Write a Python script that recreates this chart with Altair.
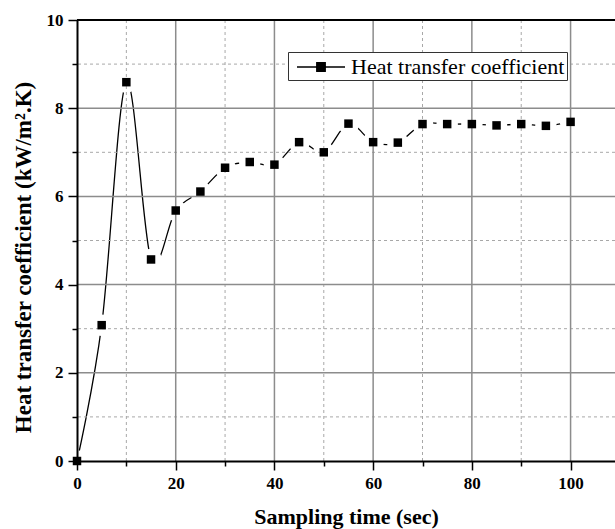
import altair as alt
import pandas as pd

# data
times = [0, 5, 10, 15, 20, 25, 30, 35, 40, 45, 50, 55, 60, 65, 70, 75, 80, 85, 90, 95, 100]
htc = [0.0, 3.08, 8.59, 4.57, 5.68, 6.11, 6.65, 6.78, 6.72, 7.23, 7.0, 7.65,
       7.23, 7.22, 7.64, 7.64, 7.64, 7.61, 7.64, 7.6, 7.69]
series_name = "Heat transfer coefficient"

major_x = [20, 40, 60, 80, 100]
minor_x = [10, 30, 50, 70, 90]
major_y = [2, 4, 6, 8]
minor_y = [1, 3, 5, 7, 9]
x_ticks = list(range(0, 110, 10))
y_ticks = list(range(0, 11))

df = pd.DataFrame({"t": times, "h": htc, "s": [series_name] * len(times)})

FONT = "Liberation Serif"
xs = alt.Scale(domain=[0, 109], nice=False, zero=False)
ys = alt.Scale(domain=[0, 10], nice=False)

x_axis = alt.Axis(
    values=x_ticks,
    labelExpr="datum.value % 20 == 0 ? datum.label : ''",
    tickSize={"condition": {"test": "datum.value % 20 == 0", "value": 9}, "value": 5},
    grid=False, domainColor="#000000", domainWidth=2, tickColor="#000000", tickWidth=1.5,
    labelFont=FONT, labelFontSize=17, labelFontWeight="bold", labelColor="#000000",
    labelPadding=5, labelFlush=False,
    title="Sampling time (sec)", titleFont=FONT, titleFontSize=22, titleFontWeight="bold",
    titleColor="#000000", titlePadding=15, zindex=1,
)
y_axis = alt.Axis(
    values=y_ticks,
    labelExpr="datum.value % 2 == 0 ? datum.label : ''",
    tickSize={"condition": {"test": "datum.value % 2 == 0", "value": 9}, "value": 5},
    grid=False, domainColor="#000000", domainWidth=2, tickColor="#000000", tickWidth=1.5,
    labelFont=FONT, labelFontSize=17, labelFontWeight="bold", labelColor="#000000",
    labelPadding=5, labelFlush=False,
    title="Heat transfer coefficient (kW/m².K)", titleFont=FONT, titleFontSize=23,
    titleFontWeight="bold", titleColor="#000000", titlePadding=11, titleY=237, zindex=1,
)

base = alt.Chart(df)

line = base.mark_line(interpolate="cardinal", color="black", strokeWidth=1.3).encode(
    x=alt.X("t:Q", scale=xs, axis=x_axis),
    y=alt.Y("h:Q", scale=ys, axis=y_axis),
)

halo = base.mark_point(shape="circle", filled=True, fill="white", color="white",
                       opacity=1, size=460).encode(
    x=alt.X("t:Q", scale=xs), y=alt.Y("h:Q", scale=ys)
)

minor_x_rules = alt.Chart(pd.DataFrame({"v": minor_x})).mark_rule(
    color="#a8a8a8", strokeWidth=1, strokeDash=[3, 3]
).encode(x=alt.X("v:Q", scale=xs))
minor_y_rules = alt.Chart(pd.DataFrame({"v": minor_y})).mark_rule(
    color="#a8a8a8", strokeWidth=1, strokeDash=[3, 3]
).encode(y=alt.Y("v:Q", scale=ys))
major_x_rules = alt.Chart(pd.DataFrame({"v": major_x})).mark_rule(
    color="#8c8c8c", strokeWidth=1.5
).encode(x=alt.X("v:Q", scale=xs))
major_y_rules = alt.Chart(pd.DataFrame({"v": major_y})).mark_rule(
    color="#8c8c8c", strokeWidth=1.5
).encode(y=alt.Y("v:Q", scale=ys))
top_border = alt.Chart(pd.DataFrame({"v": [10]})).mark_rule(
    color="black", strokeWidth=2
).encode(y=alt.Y("v:Q", scale=ys))

# wide symbol: line with a square in the middle, extends beyond the unit box
legend_symbol = "M-2,0L2,0M-0.35,-0.35L0.35,-0.35L0.35,0.35L-0.35,0.35Z"

points = base.mark_point(shape="square", filled=True, size=72, opacity=1).encode(
    x=alt.X("t:Q", scale=xs),
    y=alt.Y("h:Q", scale=ys),
    color=alt.Color(
        "s:N",
        scale=alt.Scale(range=["black"]),
        legend=alt.Legend(
            title=None, orient="none", legendX=211, legendY=32,
            symbolType=legend_symbol, symbolSize=576, symbolStrokeColor="black",
            symbolFillColor="black", symbolStrokeWidth=1.4, symbolOffset=18,
            labelFont=FONT, labelFontSize=22, labelColor="black", labelOffset=17,
            labelLimit=400, padding=2, strokeColor="#333333", fillColor="white",
        ),
    ),
)

chart = alt.layer(
    line, halo, minor_x_rules, minor_y_rules, major_x_rules, major_y_rules, top_border, points
).properties(
    width=538, height=441,
    autosize=alt.AutoSizeParams(type="none"),
    padding={"left": 77, "top": 20, "right": 0, "bottom": 68},
).configure_view(stroke=None).configure(background="white")

chart.save("out.html", embed_options={"renderer": "svg", "actions": False})
